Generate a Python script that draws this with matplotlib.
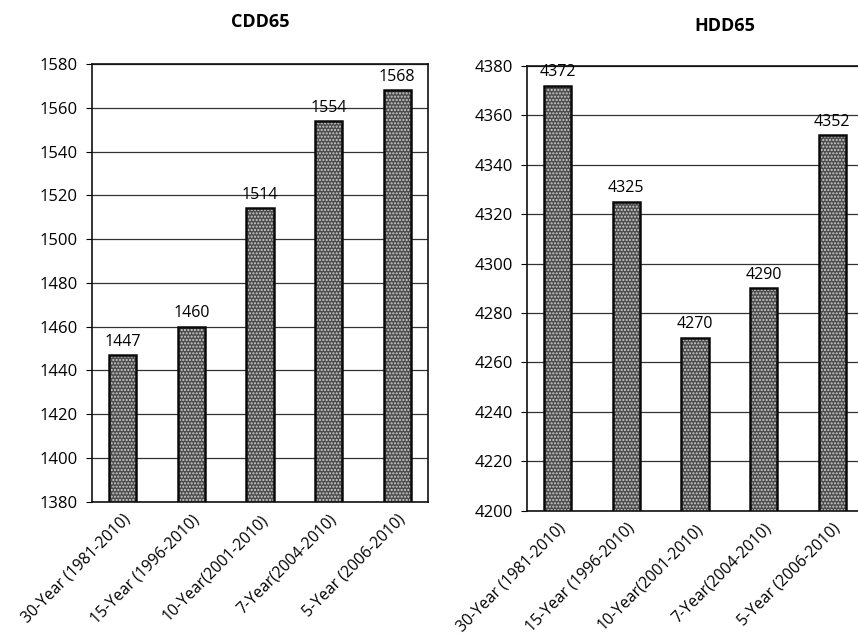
import matplotlib.pyplot as plt
import numpy as np

plt.rcParams['font.family'] = ['Open Sans', 'DejaVu Sans']

periods = ["30-Year (1981-2010)", "15-Year (1996-2010)", "10-Year(2001-2010)",
           "7-Year(2004-2010)", "5-Year (2006-2010)"]
cdd65 = [1447, 1460, 1514, 1554, 1568]
hdd65 = [4372, 4325, 4270, 4290, 4352]

fig = plt.figure(figsize=(8.58, 6.40), dpi=100)
ax1 = fig.add_axes([0.107, 0.216, 0.392, 0.684])
ax2 = fig.add_axes([0.614, 0.202, 0.392, 0.695])


def draw(ax, vals, ylim, title, title_pos):
    x = np.arange(len(vals))
    base = ylim[0]
    heights = [v - base for v in vals]
    # textured dark fill, then a black outline on top
    ax.bar(x, heights, bottom=base, width=0.4, color='#4d4d4d',
           edgecolor='#cfcfcf', hatch='.....', linewidth=0, zorder=3)
    ax.bar(x, heights, bottom=base, width=0.4, fill=False,
           edgecolor='#0a0a0a', linewidth=1.8, zorder=4)
    for xi, v in zip(x, vals):
        ax.text(xi, v + (ylim[1] - ylim[0]) * 0.012, str(v), ha='center',
                va='bottom', fontsize=11.5, zorder=5)
    ax.set_ylim(*ylim)
    ax.set_xlim(-0.45, len(vals) - 0.55)
    ax.set_yticks(np.arange(ylim[0], ylim[1] + 1, 20))
    ax.yaxis.grid(True, color='#333333', linewidth=0.9, zorder=0)
    ax.set_axisbelow(True)
    ax.set_xticks(x)
    ax.set_xticklabels(periods, rotation=45, ha='right', rotation_mode='anchor',
                       fontsize=11.3)
    ax.tick_params(axis='x', length=0, pad=7)
    ax.tick_params(axis='y', length=4, labelsize=12, pad=6)
    for s in ax.spines.values():
        s.set_color('#111111')
        s.set_linewidth(1.2)
    fig.text(title_pos[0], title_pos[1], title, ha='center', va='center',
             fontsize=13, fontweight='bold')


draw(ax1, cdd65, (1380, 1580), "CDD65", (0.303, 0.966))
draw(ax2, hdd65, (4200, 4380), "HDD65", (0.845, 0.96))

fig.savefig("out.png", dpi=100, facecolor='white')
